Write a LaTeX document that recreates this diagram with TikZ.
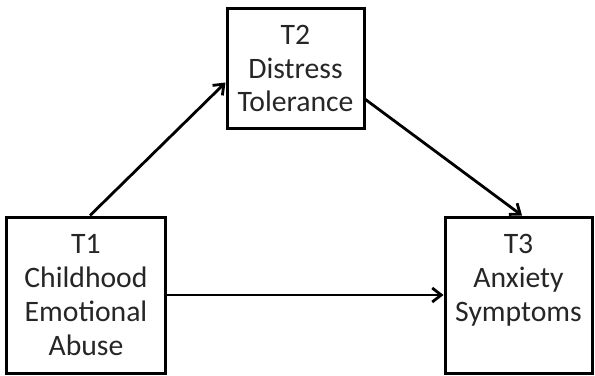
\documentclass[tikz,border=0pt]{standalone}
\usepackage{fontspec}
\setmainfont{Carlito}
\usetikzlibrary{arrows.meta, calc}

\begin{document}
\begin{tikzpicture}[x=1bp, y=1bp,
        box/.style={draw, line width=3bp, align=center, inner sep=0pt,
            font=\fontsize{29.8}{34}\selectfont, text=black!85},
        link/.style={line width=2.8bp, -{Straight Barb[length=9bp, width=14bp]}}]
        \useasboundingbox (0,0) rectangle (595,375);
        \node[box, minimum width=158bp, minimum height=156bp] (t1) at (86,80) {T1\\Childhood\\Emotional\\Abuse};
        \node[box, minimum width=137bp, minimum height=119bp] (t2) at (295.5,306.5) {T2\\Distress\\Tolerance};
        \node[box, minimum width=147bp, minimum height=156bp] (t3) at (518.5,80) {T3\\Anxiety\\Symptoms\\\mbox{}};
        \draw[link] ($(t1.north)+(4,0)$) -- ($(t2.west)+(0,-14)$);
        \draw[link] ($(t2.east)+(0,-31)$) -- ($(t3.north)+(3.5,0)$);
        \draw[link] (t1.east) -- (t3.west);
\end{tikzpicture}
\end{document}
